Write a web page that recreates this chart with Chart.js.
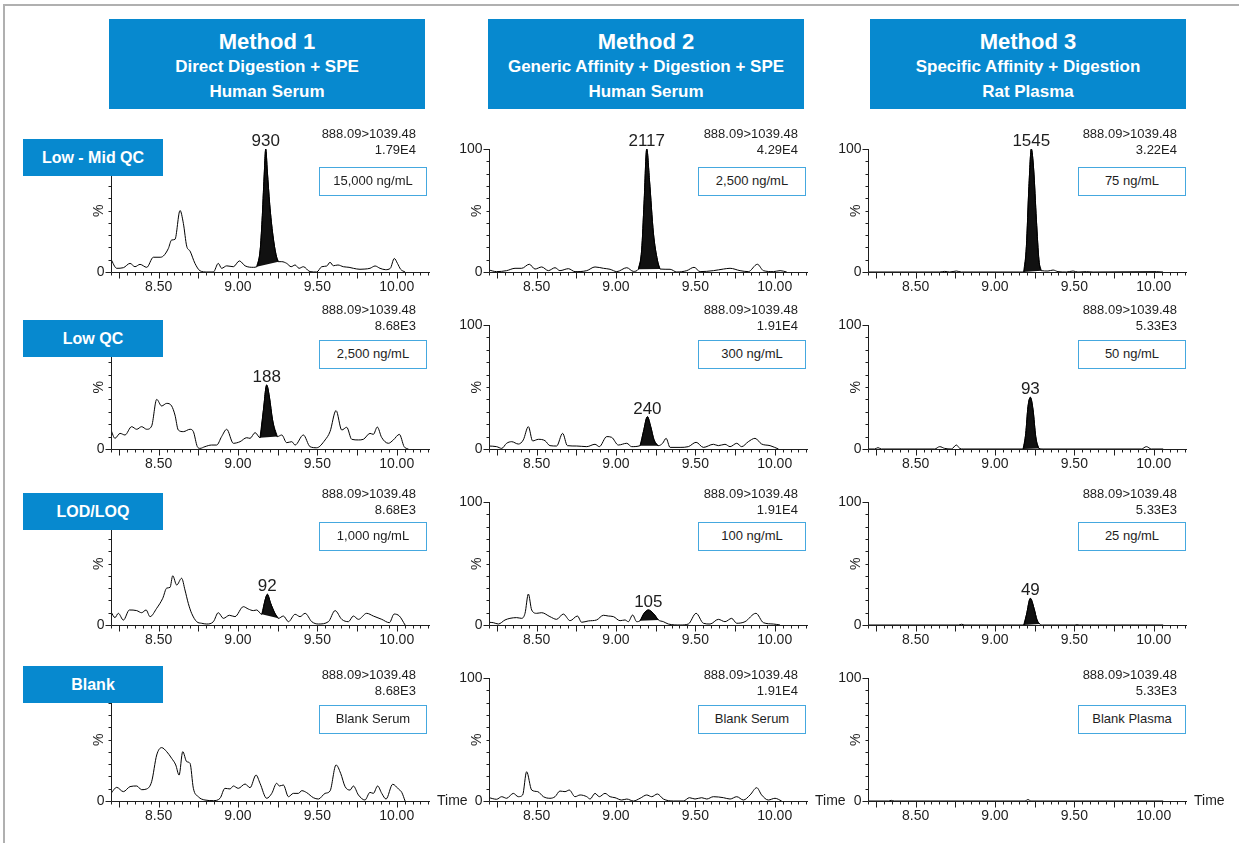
<!DOCTYPE html>
<html>
<head>
<meta charset="utf-8">
<script src="https://cdn.jsdelivr.net/npm/chart.js@4.4.0/dist/chart.umd.min.js"></script>
<style>
body{margin:0;background:#fff;font-family:"Liberation Sans",Arial,sans-serif;color:#1e1e1e;}
#page{position:relative;width:1239px;height:843px;overflow:hidden;background:#fff;}
#frame{position:absolute;left:3px;top:4px;width:1300px;height:900px;border-left:2px solid #b0b0b0;border-top:2px solid #b0b0b0;}
canvas{position:absolute;}
.method{position:absolute;top:19px;width:316px;height:90px;background:#0789cf;color:#fff;font-weight:bold;text-align:center;}
.method div{position:absolute;left:0;right:0;white-space:nowrap;}
.rowlab{position:absolute;left:23px;width:140px;height:37px;line-height:37px;background:#0789cf;color:#fff;font-weight:bold;font-size:16px;text-align:center;}
.ann{position:absolute;width:150px;text-align:right;font-size:13px;line-height:16px;}
.conc{position:absolute;width:108px;height:29px;box-sizing:border-box;border:1.5px solid #45a8df;background:#fff;font-size:13px;line-height:26px;text-align:center;}
</style>
</head>
<body>
<div id="page"><div id="frame"></div></div>
<script>
// ---- data: [time (min), intensity (%)] ----
var m1LowMid = [[8.2,10.3],[8.236,3],[8.278,3.5],[8.32,7],[8.351,4.3],[8.383,6.2],[8.425,3.8],[8.467,12],[8.509,12],[8.53,13],[8.561,19],[8.582,26],[8.603,26.5],[8.635,50],[8.656,39.5],[8.677,21],[8.698,17],[8.729,7],[8.761,1],[8.803,0],[8.845,0],[8.876,7],[8.897,3],[8.929,5],[8.971,4.3],[9.009,9],[9.045,5],[9.097,3.8],[9.118,4.3],[9.14,18],[9.152,42],[9.165,78],[9.175,100],[9.185,82],[9.2,55],[9.22,30],[9.24,14],[9.255,8.4],[9.276,8.4],[9.307,7],[9.335,4.3],[9.36,5.7],[9.385,3],[9.412,4.3],[9.454,0.3],[9.496,0],[9.528,4.3],[9.56,4.9],[9.58,7.9],[9.601,5.1],[9.63,5.7],[9.664,4.3],[9.7,3.8],[9.727,3],[9.769,2.2],[9.8,2.4],[9.832,3],[9.864,4.9],[9.895,3],[9.93,1.9],[9.96,3],[9.985,11],[10.005,7],[10.025,2.2],[10.053,0]];
var m2LowMid = [[8.2,1.6],[8.248,0.3],[8.311,1.1],[8.364,3],[8.406,3],[8.454,6.3],[8.49,2.4],[8.532,4.1],[8.574,1.1],[8.616,3.5],[8.647,1.1],[8.7,2.7],[8.742,0.3],[8.816,1.1],[8.868,4.1],[8.921,3],[8.963,2.2],[9.005,0.3],[9.068,3.5],[9.11,0.5],[9.141,2.2],[9.162,18],[9.177,56],[9.194,100],[9.211,75],[9.236,31.5],[9.261,9.8],[9.278,2.4],[9.341,2.2],[9.383,0],[9.446,1.1],[9.492,3.8],[9.53,0.3],[9.614,1.1],[9.677,2.4],[9.719,3],[9.782,1.1],[9.834,0.3],[9.891,6.3],[9.929,1.1],[9.992,0.3],[10.034,1.1],[10.076,0]];
var m3LowMid = [[8.2,0],[8.652,0],[8.683,0.5],[8.715,0],[8.757,0.8],[8.788,0],[9.156,0],[9.181,0],[9.198,20.7],[9.214,69.6],[9.229,100],[9.244,83],[9.261,42.4],[9.277,9.8],[9.292,1.1],[9.334,0.8],[9.366,1.6],[9.397,0.3],[9.45,0],[9.492,0.8],[9.523,0],[9.576,0.3],[9.618,0],[10.017,0.3],[10.059,0]];

var m1Low = [[8.2,15.3],[8.225,8.6],[8.257,12.6],[8.288,11.3],[8.33,18],[8.362,15.9],[8.393,18],[8.425,15.9],[8.456,18.5],[8.488,40],[8.519,34.7],[8.551,36.8],[8.582,34.7],[8.603,27.4],[8.624,15.3],[8.656,14],[8.698,15.9],[8.719,14],[8.744,1.9],[8.761,0.5],[8.792,1.9],[8.834,3.2],[8.866,3.2],[8.897,10],[8.929,15.9],[8.971,4.6],[9.013,5.9],[9.055,9.1],[9.076,8.6],[9.108,13.2],[9.139,9.1],[9.16,31],[9.181,51.6],[9.198,42],[9.218,23.4],[9.248,10],[9.276,11.3],[9.307,5.1],[9.339,5.9],[9.36,3.2],[9.412,11.3],[9.454,1.9],[9.496,1],[9.549,7.3],[9.58,14],[9.618,31],[9.654,15.3],[9.685,17.5],[9.717,7.8],[9.759,7.3],[9.79,7.8],[9.832,12.6],[9.853,11.8],[9.878,17.7],[9.905,9.4],[9.948,4.6],[9.979,7.3],[10.017,11.8],[10.047,1.9],[10.074,0]];
var m2Low = [[8.2,2.4],[8.248,1.9],[8.28,0.5],[8.311,4.6],[8.343,5.9],[8.385,4],[8.416,7.3],[8.448,18],[8.475,6.5],[8.511,7.8],[8.553,6.7],[8.584,2.7],[8.626,2.4],[8.664,12.6],[8.694,2.7],[8.753,2.4],[8.816,1.9],[8.868,3.8],[8.895,1.9],[8.942,10],[8.973,9.4],[9.015,3.2],[9.068,4.6],[9.099,1.9],[9.152,2.7],[9.173,14],[9.198,26],[9.219,18],[9.24,7.3],[9.267,2.7],[9.294,4.6],[9.316,8.6],[9.341,1.3],[9.404,1.3],[9.456,1.9],[9.505,5.4],[9.551,1.3],[9.614,3.8],[9.645,2.7],[9.687,3.8],[9.719,1.9],[9.761,4.6],[9.792,1.9],[9.834,5.9],[9.876,8.6],[9.918,4],[9.971,2.7],[10.024,0]];
var m3Low = [[8.2,0],[8.242,0],[8.263,1.1],[8.284,0],[8.62,0],[8.652,1.9],[8.683,0.5],[8.725,0],[8.757,3.2],[8.778,0.5],[8.799,0],[9.177,0],[9.194,12.6],[9.208,34],[9.223,41.7],[9.24,31.5],[9.257,9.9],[9.276,0.5],[9.303,0],[9.923,0],[9.954,1.9],[9.986,0],[10.06,0]];

var m1Lod = [[8.2,10.8],[8.225,6],[8.246,9.5],[8.278,4],[8.316,12.2],[8.362,11.7],[8.393,10],[8.421,12.2],[8.446,6.8],[8.488,13.6],[8.526,21.7],[8.551,30],[8.572,30.6],[8.589,40],[8.614,32.5],[8.645,38],[8.666,28.5],[8.687,17.6],[8.708,9.5],[8.74,2.7],[8.771,1.4],[8.803,0.8],[8.845,2.7],[8.876,10],[8.908,5.4],[8.946,7.9],[8.981,6.8],[9.034,14.9],[9.065,13],[9.097,11.7],[9.118,12.2],[9.15,8.7],[9.171,20.3],[9.185,25],[9.206,17.6],[9.233,9.5],[9.255,5.4],[9.286,7.3],[9.318,2.7],[9.36,8.7],[9.391,6.8],[9.423,9.5],[9.465,2.7],[9.507,0.8],[9.57,2.7],[9.612,11.7],[9.654,4.6],[9.696,2.7],[9.727,7.3],[9.759,4.6],[9.811,9.5],[9.853,7.3],[9.906,4.6],[9.954,1.9],[9.984,8.9],[10.017,7.3],[10.053,0]];
var m2Lod = [[8.2,2.2],[8.227,1.9],[8.259,0.8],[8.301,4.1],[8.332,5.4],[8.374,6],[8.406,5.4],[8.427,9.5],[8.448,25.2],[8.469,12.2],[8.5,9.5],[8.532,10],[8.584,6.8],[8.626,4.6],[8.668,8.9],[8.711,3.5],[8.757,7.3],[8.784,2.2],[8.826,3.3],[8.878,4.1],[8.921,7.9],[8.952,7.3],[8.984,6.8],[9.026,3.5],[9.057,4.1],[9.078,2.7],[9.105,8.1],[9.131,2.7],[9.152,3.5],[9.177,9.5],[9.204,12.2],[9.235,9.5],[9.267,4.1],[9.299,2.7],[9.33,0.8],[9.404,0],[9.456,0.8],[9.505,9.5],[9.551,1.4],[9.593,0.8],[9.645,4.6],[9.687,2.7],[9.729,5.4],[9.761,1.4],[9.813,2.7],[9.882,9.5],[9.929,1.9],[9.992,0.8],[10.034,0]];
var m3Lod = [[8.2,0],[8.77,0],[8.79,0.6],[8.81,0],[9.181,0],[9.198,8.1],[9.223,21.7],[9.246,13.6],[9.265,4.1],[9.282,0.8],[9.3,0],[9.5,0],[9.515,0.4],[9.53,0],[10.06,0]];

var m1Blank = [[8.2,6.2],[8.236,11.1],[8.278,7.6],[8.32,11.7],[8.362,12.2],[8.393,9.2],[8.425,9.8],[8.456,15.7],[8.488,37.4],[8.519,43.4],[8.551,40.1],[8.582,34.7],[8.608,29.3],[8.629,21.1],[8.652,40.1],[8.677,32],[8.698,30.6],[8.719,10.3],[8.75,3.5],[8.792,0.8],[8.845,0.3],[8.887,2.2],[8.918,10.3],[8.95,9.8],[8.971,12.2],[9.002,10.3],[9.045,13.8],[9.076,10.8],[9.114,21.1],[9.139,14.4],[9.181,2.2],[9.213,6.2],[9.244,14.4],[9.261,12.2],[9.286,13],[9.318,3.5],[9.349,6.2],[9.381,6.2],[9.402,8.4],[9.433,6.8],[9.475,2.7],[9.507,1.6],[9.549,6.2],[9.58,8.1],[9.618,29.3],[9.647,22.5],[9.675,11.7],[9.706,8.9],[9.727,12.2],[9.759,4.9],[9.8,0.8],[9.832,7],[9.853,6.2],[9.88,12.2],[9.906,6.2],[9.933,1.6],[9.975,13.6],[10.011,9.8],[10.032,7],[10.053,0]];
var m2Blank = [[8.2,2.7],[8.248,1.4],[8.28,3.5],[8.311,2.2],[8.353,6.2],[8.385,3.5],[8.412,4.9],[8.437,23.8],[8.469,8.9],[8.507,7.6],[8.543,3.5],[8.584,2.2],[8.616,3.5],[8.647,8.1],[8.679,7.6],[8.706,8.9],[8.742,3.5],[8.774,4.9],[8.816,3.5],[8.837,1.6],[8.868,6.2],[8.895,3.5],[8.931,6.2],[8.963,3.5],[8.994,2.7],[9.036,0.8],[9.068,1.6],[9.11,0],[9.152,2.2],[9.194,4.9],[9.225,3.5],[9.261,5.7],[9.299,1.6],[9.362,0],[9.425,0],[9.463,2.7],[9.498,1.6],[9.54,2.7],[9.572,1.6],[9.614,3.5],[9.677,2.7],[9.719,1.6],[9.761,3.5],[9.803,0.8],[9.845,4.9],[9.887,10.8],[9.918,4.9],[9.96,0.8],[10.002,2.2],[10.044,0]];
var m3Blank = [[8.2,0],[8.33,0],[8.347,0.5],[8.365,0],[9.19,0],[9.208,1.2],[9.226,0],[10.06,0]];

// integrated peak windows (start, end in min) and their area labels
var peakWindows = [
  [[9.118,9.255],[9.141,9.278],[9.181,9.292]],
  [[9.139,9.248],[9.152,9.267],[9.177,9.276]],
  [[9.150,9.255],[9.152,9.267],[9.181,9.282]],
  [null,null,null]
];
var peakLabels = [['930','2117','1545'],['188','240','93'],['92','105','49'],[null,null,null]];

var methodTitles = ['Method 1','Method 2','Method 3'];
var methodPreps = ['Direct Digestion + SPE','Generic Affinity + Digestion + SPE','Specific Affinity + Digestion'];
var methodMatrices = ['Human Serum','Human Serum','Rat Plasma'];
var rowLabels = ['Low - Mid QC','Low QC','LOD/LOQ','Blank'];
var transition = '888.09>1039.48';
var intensities = [['1.79E4','4.29E4','3.22E4'],['8.68E3','1.91E4','5.33E3'],['8.68E3','1.91E4','5.33E3'],['8.68E3','1.91E4','5.33E3']];
var concentrations = [['15,000 ng/mL','2,500 ng/mL','75 ng/mL'],['2,500 ng/mL','300 ng/mL','50 ng/mL'],['1,000 ng/mL','100 ng/mL','25 ng/mL'],['Blank Serum','Blank Serum','Blank Plasma']];
var xTickLabels = [8.5, 9.0, 9.5, 10.0];
var yTickLabels = [0, 100];
var timeMin = 8.2, timeMax = 10.21;

var traces = [
  [m1LowMid, m2LowMid, m3LowMid],
  [m1Low, m2Low, m3Low],
  [m1Lod, m2Lod, m3Lod],
  [m1Blank, m2Blank, m3Blank]
];

// ---- layout ----
var colAxisX = [111, 489, 868];
var plotW = 319;
var rowTop = [149, 325, 502, 678];
var rowBottom = [272, 449, 625, 801];
var padL = 45, padR = 45, padT = 25, padB = 25;
var headerLeft = [109, 488, 870];
var rowLabelTop = [139, 320, 493, 666];
var annRight = [416, 798, 1177];
var annTop = [126, 302, 486, 667];
var boxLeft = [319, 698, 1078];
var boxTop = [167, 340, 522, 705];
var FONT = '"Liberation Sans", Arial, sans-serif';
var INK = '#1e1e1e';

var chromAxes = {
  id: 'chromAxes',
  afterDraw: function(chart, args, opts){
    var ctx = chart.ctx, xs = chart.scales.x, ys = chart.scales.y;
    var left = Math.round(xs.getPixelForValue(timeMin)) + 0.5;
    var right = xs.getPixelForValue(timeMax);
    var base = Math.round(ys.getPixelForValue(0)) + 0.5;
    var top = ys.getPixelForValue(100);
    ctx.save();
    ctx.strokeStyle = INK;
    ctx.lineWidth = 1;
    ctx.beginPath();
    ctx.moveTo(left, top);
    ctx.lineTo(left, base);
    ctx.lineTo(right, base);
    for (var k = Math.ceil(timeMin/0.05 - 1e-6); k*0.05 <= timeMax + 1e-6; k++){
      var px = Math.round(xs.getPixelForValue(k*0.05)) + 0.5;
      ctx.moveTo(px, base);
      ctx.lineTo(px, base + (k % 5 === 0 ? 6 : 3));
    }
    for (var v = 0; v <= 100; v += 10){
      var py = Math.round(ys.getPixelForValue(v)) + 0.5;
      ctx.moveTo(left, py);
      ctx.lineTo(left - ((v === 0 || v === 100) ? 6 : 3), py);
    }
    ctx.stroke();

    ctx.fillStyle = INK;
    ctx.font = '14px ' + FONT;
    ctx.textAlign = 'center';
    ctx.textBaseline = 'middle';
    xTickLabels.forEach(function(t){
      ctx.fillText(t.toFixed(2), xs.getPixelForValue(t), base + 15);
    });
    ctx.textAlign = 'right';
    yTickLabels.forEach(function(v){
      // in the first column the row label box sits over the top of the axis
      if (v === 100 && opts.hideTop) return;
      ctx.fillText(String(v), left - 7, ys.getPixelForValue(v));
    });
    if (opts.showTime){
      ctx.textAlign = 'left';
      ctx.fillText('Time', right + 7, base);
    }
    ctx.save();
    ctx.translate(left - 12, (top + base)/2);
    ctx.rotate(-Math.PI/2);
    ctx.textAlign = 'center';
    ctx.fillText('%', 0, 0);
    ctx.restore();

    if (opts.label && chart.data.datasets[1]){
      var pk = chart.data.datasets[1].data, best = pk[0];
      pk.forEach(function(p){ if (p.y > best.y) best = p; });
      ctx.font = '17px ' + FONT;
      ctx.textAlign = 'center';
      ctx.textBaseline = 'alphabetic';
      ctx.fillText(opts.label, xs.getPixelForValue(best.x), ys.getPixelForValue(best.y) - 3);
    }
    ctx.restore();
  }
};

var page = document.getElementById('page');

for (var r = 0; r < 4; r++){
  for (var c = 0; c < 3; c++){
    var trace = traces[r][c];
    var pts = trace.map(function(p){ return {x: p[0], y: p[1]}; });
    var datasets = [{
      data: pts, borderColor: '#000', borderWidth: 1, pointRadius: 0,
      cubicInterpolationMode: 'monotone', fill: false
    }];
    var win = peakWindows[r][c];
    if (win){
      var peakPts = pts.filter(function(p){ return p.x >= win[0] - 1e-9 && p.x <= win[1] + 1e-9; });
      datasets.push({
        data: peakPts, borderColor: '#000', backgroundColor: '#111', borderWidth: 1,
        pointRadius: 0, cubicInterpolationMode: 'monotone', fill: 'shape'
      });
    }
    var cv = document.createElement('canvas');
    var w = padL + plotW + padR, h = padT + (rowBottom[r] - rowTop[r]) + padB;
    cv.width = w; cv.height = h;
    cv.style.width = w + 'px'; cv.style.height = h + 'px';
    cv.style.left = (colAxisX[c] - padL) + 'px';
    cv.style.top = (rowTop[r] - padT) + 'px';
    page.appendChild(cv);
    new Chart(cv, {
      type: 'line',
      data: {datasets: datasets},
      options: {
        responsive: false, animation: false, devicePixelRatio: 1, events: [],
        layout: {padding: {left: padL, right: padR, top: padT, bottom: padB}},
        scales: {
          x: {type: 'linear', min: timeMin, max: timeMax, display: false},
          y: {min: 0, max: 100, display: false}
        },
        plugins: {
          legend: {display: false}, tooltip: {enabled: false},
          chromAxes: {label: peakLabels[r][c], showTime: r === 3, hideTop: c === 0}
        }
      },
      plugins: [chromAxes]
    });
  }
}

function addDiv(cls, css, text){
  var d = document.createElement('div');
  if (cls) d.className = cls;
  d.style.cssText = css;
  if (text !== undefined) d.textContent = text;
  page.appendChild(d);
  return d;
}

for (var c2 = 0; c2 < 3; c2++){
  var hb = addDiv('method', 'left:' + headerLeft[c2] + 'px;');
  var t1 = document.createElement('div'); t1.style.cssText = 'top:9px;font-size:22px;line-height:28px;'; t1.textContent = methodTitles[c2]; hb.appendChild(t1);
  var t2 = document.createElement('div'); t2.style.cssText = 'top:38px;font-size:17px;line-height:20px;'; t2.textContent = methodPreps[c2]; hb.appendChild(t2);
  var t3 = document.createElement('div'); t3.style.cssText = 'top:63px;font-size:17px;line-height:20px;'; t3.textContent = methodMatrices[c2]; hb.appendChild(t3);
}

for (var r2 = 0; r2 < 4; r2++){
  addDiv('rowlab', 'top:' + rowLabelTop[r2] + 'px;', rowLabels[r2]);
  for (var c3 = 0; c3 < 3; c3++){
    var a = addDiv('ann', 'left:' + (annRight[c3] - 150) + 'px;top:' + annTop[r2] + 'px;');
    a.appendChild(document.createTextNode(transition));
    a.appendChild(document.createElement('br'));
    a.appendChild(document.createTextNode(intensities[r2][c3]));
    addDiv('conc', 'left:' + boxLeft[c3] + 'px;top:' + boxTop[r2] + 'px;', concentrations[r2][c3]);
  }
}
</script>
</body>
</html>
